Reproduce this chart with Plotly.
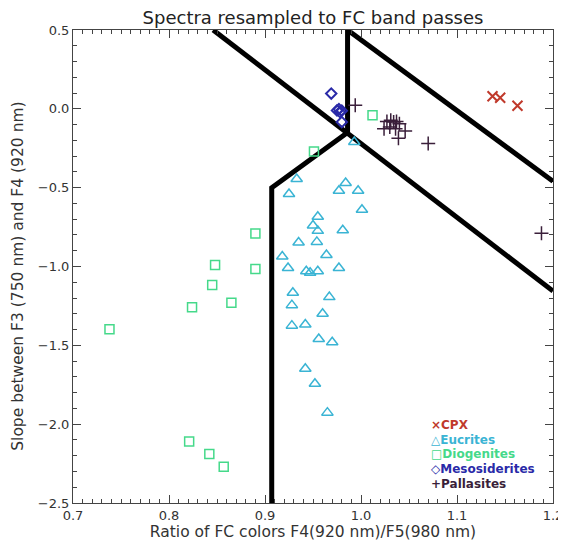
import plotly.graph_objects as go

# ---- data ----
cpx_x = [1.137, 1.145, 1.163]
cpx_y = [0.08, 0.07, 0.02]

euc_x = [0.933, 0.925, 0.984, 0.977, 0.997, 1.001, 0.955, 0.950, 0.955, 0.981,
         0.935, 0.954, 0.918, 0.964, 0.924, 0.943, 0.947, 0.955, 0.977, 0.929,
         0.967, 0.928, 0.960, 0.928, 0.942, 0.956, 0.970, 0.942, 0.952, 0.965,
         0.993]
euc_y = [-0.445, -0.54, -0.47, -0.52, -0.52, -0.64, -0.685, -0.74, -0.774, -0.77,
         -0.848, -0.844, -0.937, -0.927, -1.01, -1.03, -1.04, -1.03, -1.01, -1.167,
         -1.194, -1.245, -1.30, -1.375, -1.368, -1.46, -1.48, -1.648, -1.744, -1.927,
         -0.21]

dio_x = [0.738, 0.824, 0.845, 0.848, 0.865, 0.890, 0.890, 0.951, 1.012,
         0.821, 0.842, 0.857]
dio_y = [-1.398, -1.258, -1.118, -0.99, -1.23, -0.79, -1.016, -0.27, -0.04,
         -2.11, -2.19, -2.27]

mes_x = [0.969, 0.975, 0.978, 0.980, 0.977, 0.980]
mes_y = [0.097, -0.010, -0.020, -0.012, -0.002, -0.084]

pal_x = [0.994, 1.027, 1.031, 1.034, 1.037, 1.040, 1.024, 1.030, 1.036, 1.046,
         1.039, 1.070, 1.188]
pal_y = [0.022, -0.08, -0.073, -0.084, -0.08, -0.094, -0.126, -0.116, -0.126, -0.14,
         -0.186, -0.22, -0.789]

# class boundary lines
bound_a_x = [0.846, 1.2]
bound_a_y = [0.5, -1.156]
bound_b_x = [0.986, 0.986]
bound_b_y = [0.5, -0.15]
bound_c_x = [0.986, 1.2]
bound_c_y = [0.5, -0.46]
bound_d_x = [0.986, 0.907, 0.907]
bound_d_y = [-0.15, -0.5, -2.5]

x_ticks = [0.7, 0.8, 0.9, 1.0, 1.1, 1.2]
x_tick_labels = ["0.7", "0.8", "0.9", "1.0", "1.1", "1.2"]
y_ticks = [0.5, 0.0, -0.5, -1.0, -1.5, -2.0, -2.5]
y_tick_labels = ["0.5", "0.0", "\u22120.5", "\u22121.0", "\u22121.5", "\u22122.0", "\u22122.5"]

legend_names = ["CPX", "Eucrites", "Diogenites", "Mesosiderites", "Pallasites"]
legend_glyphs = ["\u00d7", "\u25b3", "\u25a1", "\u25c7", "+"]

C_CPX = "#c0392b"
C_EUC = "#3ab4d4"
C_DIO = "#45d98a"
C_MES = "#2a2aa8"
C_PAL = "#3a1f3a"
legend_colors = [C_CPX, C_EUC, C_DIO, C_MES, C_PAL]

fig = go.Figure()

for bx, by in [(bound_a_x, bound_a_y), (bound_b_x, bound_b_y),
               (bound_c_x, bound_c_y), (bound_d_x, bound_d_y)]:
    fig.add_trace(go.Scatter(x=bx, y=by, mode="lines",
                             line=dict(color="black", width=5),
                             showlegend=False, hoverinfo="skip"))

fig.add_trace(go.Scatter(x=cpx_x, y=cpx_y, mode="markers", name="CPX", showlegend=False,
                         marker=dict(symbol="x-thin-open", size=10, color=C_CPX,
                                     line=dict(color=C_CPX, width=2))))
fig.add_trace(go.Scatter(x=euc_x, y=euc_y, mode="markers", name="Eucrites", showlegend=False,
                         marker=dict(symbol="triangle-up-open", size=10, color=C_EUC,
                                     line=dict(color=C_EUC, width=1.5))))
fig.add_trace(go.Scatter(x=dio_x, y=dio_y, mode="markers", name="Diogenites", showlegend=False,
                         marker=dict(symbol="square-open", size=9, color=C_DIO,
                                     line=dict(color=C_DIO, width=1.5))))
fig.add_trace(go.Scatter(x=mes_x, y=mes_y, mode="markers", name="Mesosiderites", showlegend=False,
                         marker=dict(symbol="diamond-open", size=8, color=C_MES,
                                     line=dict(color=C_MES, width=2))))
fig.add_trace(go.Scatter(x=pal_x, y=pal_y, mode="markers", name="Pallasites", showlegend=False,
                         marker=dict(symbol="cross-thin-open", size=10, color=C_PAL,
                                     line=dict(color=C_PAL, width=1.5))))

# manual legend (text coloured per entry)
leg_y0 = 0.165
leg_dy = 0.031
for i, (g, n, c) in enumerate(zip(legend_glyphs, legend_names, legend_colors)):
    fig.add_annotation(xref="paper", yref="paper", x=0.742, y=leg_y0 - i * leg_dy,
                       xanchor="left", yanchor="middle", showarrow=False,
                       text=f"<b>{g}{n}</b>", font=dict(size=12, color=c,
                                                        family="DejaVu Sans, sans-serif"))

# y-axis title as rotated annotation
fig.add_annotation(xref="paper", yref="paper", x=-0.115, y=0.48,
                   xanchor="center", yanchor="middle", showarrow=False, textangle=-90,
                   text="Slope between F3 (750 nm) and F4 (920 nm)",
                   font=dict(size=15.5, color="#333"))

axis_common = dict(showgrid=False, zeroline=False, showline=True,
                   linecolor="#444", linewidth=1, mirror="ticks",
                   ticks="inside", ticklen=8, tickcolor="#444", automargin=False,
                   tickfont=dict(size=13, color="#333"))

fig.update_xaxes(range=[0.7, 1.2], tickvals=x_ticks, ticktext=x_tick_labels,
                 minor=dict(ticks="inside", dtick=0.01, ticklen=4, tickcolor="#444"),
                 title=dict(text="Ratio of FC colors F4(920 nm)/F5(980 nm)",
                            font=dict(size=15.5, color="#333"), standoff=0),
                 **axis_common)
fig.update_yaxes(range=[-2.5, 0.5], tickvals=y_ticks, ticktext=y_tick_labels,
                 minor=dict(ticks="inside", dtick=0.1, ticklen=4, tickcolor="#444"),
                 **axis_common)

fig.update_layout(
    width=558, height=542,
    margin=dict(l=65, r=13, t=22, b=47),
    paper_bgcolor="white", plot_bgcolor="white",
    font=dict(family="DejaVu Sans, sans-serif", color="#333"),
    title=dict(text="Spectra resampled to FC band passes", xref="paper", x=0.5,
               xanchor="center", yref="container", y=0.982, yanchor="middle",
               font=dict(size=18, color="#222")),
)

fig.write_html("out.html")
